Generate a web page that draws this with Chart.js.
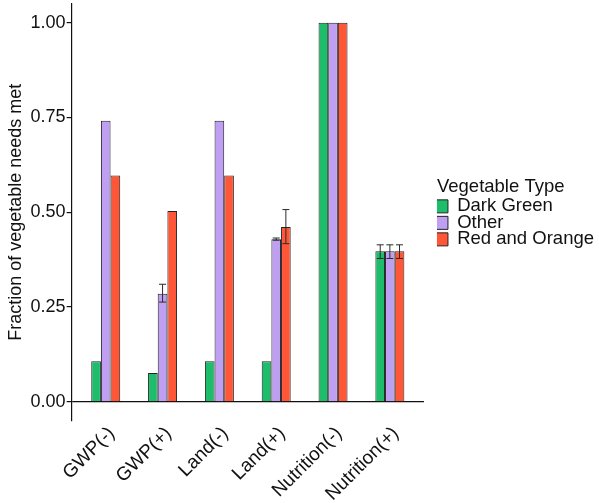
<!DOCTYPE html>
<html lang="en">
<head>
    <meta charset="UTF-8">
    <title>Vegetable needs</title>
    <style>
        * { margin: 0; padding: 0; box-sizing: border-box; }
        body { background: #fff; overflow: hidden; }
        #wrap { width: 599px; height: 503px; }
    </style>
</head>
<body>
    <div id="wrap"><canvas id="vegChart" width="599" height="503"></canvas></div>

    <script src="https://cdn.jsdelivr.net/npm/chart.js"></script>
    <script>
// scenarios on the x axis
const scenarios = ['GWP(-)', 'GWP(+)', 'Land(-)', 'Land(+)', 'Nutrition(-)', 'Nutrition(+)'];

// fraction of needs met, per vegetable type
const darkGreen   = [0.107, 0.076, 0.107, 0.107, 1.0, 0.397];
const other       = [0.741, 0.285, 0.741, 0.429, 1.0, 0.397];
const redOrange   = [0.597, 0.503, 0.597, 0.461, 1.0, 0.397];

// error bar ranges (null = none)
const darkGreenLow  = [null, null, null, null, null, 0.378];
const darkGreenHigh = [null, null, null, null, null, 0.414];
const otherLow      = [null, 0.263, null, 0.426, null, 0.378];
const otherHigh     = [null, 0.310, null, 0.432, null, 0.414];
const redOrangeLow  = [null, null, null, 0.417, null, 0.378];
const redOrangeHigh = [null, null, null, 0.507, null, 0.414];

const yTicks = [0, 0.25, 0.5, 0.75, 1.0];

const FONT = "'Liberation Sans', Arial, sans-serif";

function toPoints(vals) {
    return vals.map((v, i) => ({ x: i + 1, y: v }));
}

// draws the whiskers on top of the bars
const errorBars = {
    id: 'errorBars',
    afterDatasetsDraw(chart) {
        const ctx = chart.ctx;
        const yScale = chart.scales.y;
        chart.data.datasets.forEach((ds, di) => {
            const meta = chart.getDatasetMeta(di);
            meta.data.forEach((bar, i) => {
                const lo = ds.errLow[i], hi = ds.errHigh[i];
                if (lo == null || hi == null) return;
                const x = bar.x;
                const y1 = yScale.getPixelForValue(lo);
                const y2 = yScale.getPixelForValue(hi);
                ctx.save();
                ctx.strokeStyle = '#2b2b2b';
                ctx.lineWidth = 1;
                ctx.beginPath();
                ctx.moveTo(x, y1); ctx.lineTo(x, y2);
                ctx.moveTo(x - 3.5, y1); ctx.lineTo(x + 3.5, y1);
                ctx.moveTo(x - 3.5, y2); ctx.lineTo(x + 3.5, y2);
                ctx.stroke();
                ctx.restore();
            });
        });
    }
};

// push the legend a bit away from the panel
const legendNudge = {
    id: 'legendNudge',
    afterLayout(chart) {
        chart.legend.left += 13;
        chart.legend.right += 13;
    }
};

const ctx = document.getElementById('vegChart').getContext('2d');
new Chart(ctx, {
    type: 'bar',
    data: {
        datasets: [{
            label: 'Dark Green',
            data: toPoints(darkGreen),
            errLow: darkGreenLow,
            errHigh: darkGreenHigh,
            backgroundColor: '#1dbd6b',
            borderColor: '#222',
            borderWidth: 1
        }, {
            label: 'Other',
            data: toPoints(other),
            errLow: otherLow,
            errHigh: otherHigh,
            backgroundColor: '#bf9ff2',
            borderColor: '#222',
            borderWidth: 1
        }, {
            label: 'Red and Orange',
            data: toPoints(redOrange),
            errLow: redOrangeLow,
            errHigh: redOrangeHigh,
            backgroundColor: '#fe5636',
            borderColor: '#222',
            borderWidth: 1
        }]
    },
    options: {
        responsive: false,
        animation: false,
        layout: { padding: { top: 3, right: 8, bottom: -4, left: 0 } },
        datasets: {
            bar: { categoryPercentage: 0.51, barPercentage: 1.0 }
        },
        plugins: {
            tooltip: { enabled: false },
            legend: {
                position: 'right',
                fullSize: false,
                maxWidth: 220,
                title: {
                    display: true,
                    position: 'start',
                    text: 'Vegetable Type',
                    color: '#111',
                    font: { family: FONT, size: 18.5, lineHeight: 1.15 },
                    padding: 0
                },
                labels: {
                    boxWidth: 13,
                    boxHeight: 13,
                    padding: -2,
                    color: '#111',
                    font: { family: FONT, size: 18.5 }
                }
            }
        },
        scales: {
            x: {
                type: 'linear',
                offset: false,
                min: 0.4,
                max: 6.6,
                grid: { display: false, drawTicks: false, offset: false },
                border: { display: false },
                afterBuildTicks(scale) {
                    scale.ticks = scenarios.map((s, i) => ({ value: i + 1 }));
                },
                ticks: {
                    autoSkip: false,
                    minRotation: 45,
                    maxRotation: 45,
                    padding: 3,
                    labelOffset: 6,
                    color: '#111',
                    font: { family: FONT, size: 19, lineHeight: 1.0 },
                    callback: (v) => scenarios[Math.round(v) - 1]
                }
            },
            y: {
                min: -0.05,
                max: 1.05,
                afterBuildTicks(scale) {
                    scale.ticks = yTicks.map(v => ({ value: v }));
                },
                border: { display: true, color: '#111', width: 1.2 },
                grid: {
                    color: (c) => c.tick && c.tick.value === 0 ? '#111' : 'rgba(0,0,0,0)',
                    lineWidth: 1.2,
                    tickColor: '#111',
                    tickLength: 5
                },
                ticks: {
                    padding: 1,
                    color: '#111',
                    font: { family: FONT, size: 18, lineHeight: 0.3 },
                    callback: (v) => v.toFixed(2)
                },
                title: {
                    display: true,
                    text: 'Fraction of vegetable needs met',
                    color: '#111',
                    font: { family: FONT, size: 18 },
                    padding: { top: 5, bottom: 3 }
                }
            }
        }
    },
    plugins: [errorBars, legendNudge]
});
    </script>
</body>
</html>
